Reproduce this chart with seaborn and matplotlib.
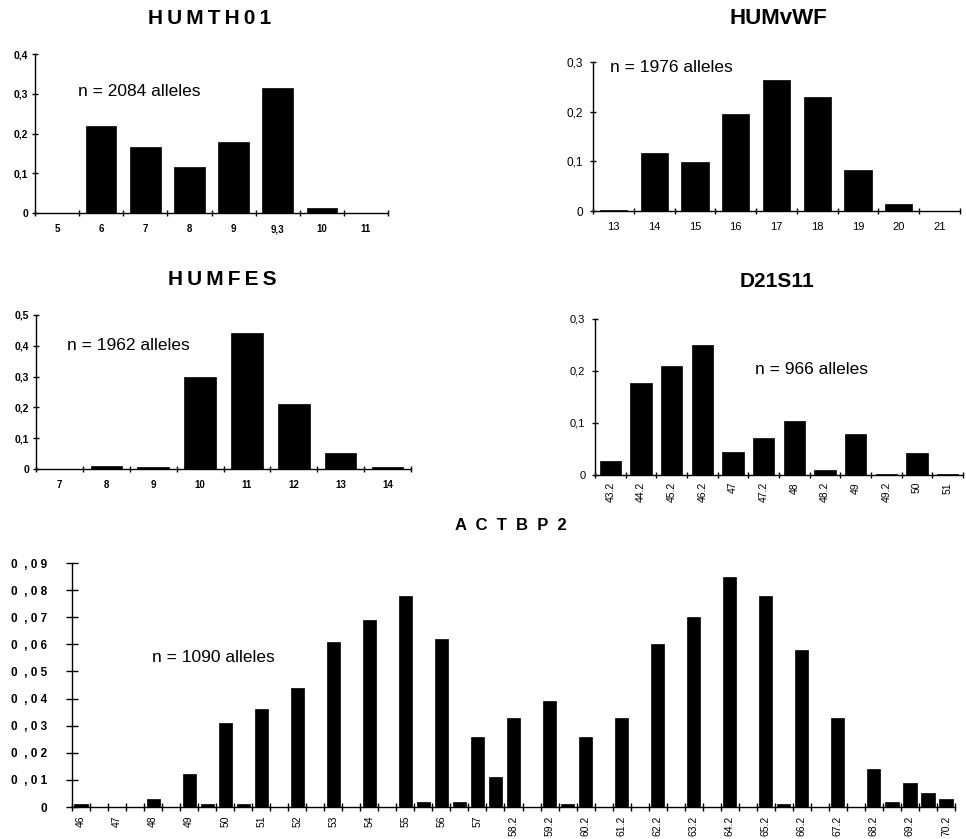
"""
Allele frequency distributions for five STR loci (HUMTH01, HUMvWF, HUMFES, D21S11, ACTBP2).
"""
import numpy as np
import matplotlib
matplotlib.use("Agg")
import matplotlib.pyplot as plt
import seaborn as sns

# --- HUMTH01 ---
th01_alleles = ["5", "6", "7", "8", "9", "9,3", "10", "11"]
th01_freq = [0.0, 0.220, 0.166, 0.116, 0.178, 0.315, 0.013, 0.0]
th01_yticks = [0, 0.1, 0.2, 0.3, 0.4]
th01_ylabels = ["0", "0,1", "0,2", "0,3", "0,4"]

# --- HUMvWF ---
vwf_alleles = ["13", "14", "15", "16", "17", "18", "19", "20", "21"]
vwf_freq = [0.003, 0.117, 0.098, 0.196, 0.264, 0.229, 0.083, 0.015, 0.001]
vwf_yticks = [0, 0.1, 0.2, 0.3]
vwf_ylabels = ["0", "0,1", "0,2", "0,3"]

# --- HUMFES ---
fes_alleles = ["7", "8", "9", "10", "11", "12", "13", "14"]
fes_freq = [0.001, 0.010, 0.005, 0.298, 0.443, 0.212, 0.051, 0.005]
fes_yticks = [0, 0.1, 0.2, 0.3, 0.4, 0.5]
fes_ylabels = ["0", "0,1", "0,2", "0,3", "0,4", "0,5"]

# --- D21S11 ---
d21_alleles = ["43.2", "44.2", "45.2", "46.2", "47", "47.2", "48", "48.2",
               "49", "49.2", "50", "51"]
d21_freq = [0.027, 0.176, 0.209, 0.250, 0.044, 0.071, 0.104, 0.009,
            0.078, 0.001, 0.043, 0.001]
d21_yticks = [0, 0.1, 0.2, 0.3]
d21_ylabels = ["0", "0,1", "0,2", "0,3"]

# --- ACTBP2 ---
act_alleles = ["46", "46.2", "47", "47.2", "48", "48.2", "49", "49.2", "50", "50.2",
               "51", "51.2", "52", "52.2", "53", "53.2", "54", "54.2", "55", "55.2",
               "56", "56.2", "57", "58", "58.2", "59", "59.2", "60", "60.2", "61",
               "61.2", "62", "62.2", "63", "63.2", "64", "64.2", "65", "65.2", "66",
               "66.2", "67", "67.2", "68", "68.2", "69", "69.2", "70", "70.2"]
act_freq = [0.001, 0.0, 0.0, 0.0, 0.003, 0.0, 0.012, 0.001, 0.031, 0.001,
            0.036, 0.0, 0.044, 0.0, 0.061, 0.0, 0.069, 0.0, 0.078, 0.002,
            0.062, 0.002, 0.026, 0.011, 0.033, 0.0, 0.039, 0.001, 0.026, 0.0,
            0.033, 0.0, 0.060, 0.0, 0.070, 0.0, 0.085, 0.0, 0.078, 0.001,
            0.058, 0.0, 0.033, 0.0, 0.014, 0.002, 0.009, 0.005, 0.003]
act_yticks = [0, 0.01, 0.02, 0.03, 0.04, 0.05, 0.06, 0.07, 0.08, 0.09]
act_ylabels = ["0", "0  , 0 1", "0  , 0 2", "0  , 0 3", "0  , 0 4", "0  , 0 5",
               "0  , 0 6", "0  , 0 7", "0  , 0 8", "0  , 0 9"]

W, H = 966, 839


def px_axes(fig, x0, y0, x1, y1):
    # axes from pixel box (top-left origin)
    return fig.add_axes([x0 / W, 1 - y1 / H, (x1 - x0) / W, (y1 - y0) / H])


def draw_panel(ax, alleles, freq, yticks, ylabels, width=0.7, every=1,
               rotate=False, fs=6.5, weight="bold", ytick_len=4, xtick_len=4,
               ypad=3, xpad=8):
    sns.barplot(x=alleles, y=freq, color="black", saturation=1, width=width,
                ax=ax, edgecolor="black", linewidth=0.5)
    n = len(alleles)
    ax.set_xlim(-0.5, n - 0.5)
    ax.set_ylim(0, yticks[-1])
    for side in ["top", "right"]:
        ax.spines[side].set_visible(False)
    for side in ["left", "bottom"]:
        ax.spines[side].set_color("black")
        ax.spines[side].set_linewidth(1.0)

    ax.set_yticks(yticks)
    ax.set_yticklabels(ylabels, fontsize=fs + 0.5, fontweight=weight)
    ax.tick_params(axis="y", left=True, direction="inout", length=ytick_len,
                   width=1, pad=ypad, color="black")

    # category labels centred, ticks on the category boundaries
    idx = np.arange(n)
    ax.set_xticks(idx)
    labels = [a if i % every == 0 else "" for i, a in enumerate(alleles)]
    ax.set_xticklabels(labels, fontsize=fs, fontweight=weight,
                       rotation=90 if rotate else 0)
    ax.set_xticks(np.arange(n + 1) - 0.5, minor=True)
    ax.tick_params(axis="x", which="major", bottom=True, length=0, pad=xpad)
    ax.tick_params(axis="x", which="minor", bottom=True, direction="inout",
                   length=xtick_len, width=1, color="black")
    ax.set_xlabel("")
    ax.set_ylabel("")


def main():
    sns.set_style("ticks")
    plt.rcParams["font.family"] = ["Liberation Sans", "DejaVu Sans"]
    plt.rcParams["text.color"] = "black"
    plt.rcParams["xtick.color"] = "black"
    plt.rcParams["ytick.color"] = "black"

    fig = plt.figure(figsize=(W / 100, H / 100), dpi=100)

    ax1 = px_axes(fig, 35, 54, 388, 213)
    draw_panel(ax1, th01_alleles, th01_freq, th01_yticks, th01_ylabels,
               width=0.69, fs=7)

    ax2 = px_axes(fig, 593, 62, 960, 211)
    draw_panel(ax2, vwf_alleles, vwf_freq, vwf_yticks, vwf_ylabels,
               width=0.67, fs=8, weight="normal", ypad=5)

    ax3 = px_axes(fig, 36, 315, 411, 469)
    draw_panel(ax3, fes_alleles, fes_freq, fes_yticks, fes_ylabels,
               width=0.67, fs=7)

    ax4 = px_axes(fig, 595, 319, 963, 475)
    draw_panel(ax4, d21_alleles, d21_freq, d21_yticks, d21_ylabels,
               width=0.7, rotate=True, fs=7.5, weight="normal", ypad=5, xpad=5)

    ax5 = px_axes(fig, 72, 563, 955, 807)
    draw_panel(ax5, act_alleles, act_freq, act_yticks, act_ylabels,
               width=0.73, every=2, rotate=True, fs=7.5, weight="normal",
               ytick_len=9, xtick_len=6, ypad=13.5, xpad=6)
    for lab in ax5.get_yticklabels():
        lab.set_fontweight("bold")
        lab.set_fontsize(8.5)

    # titles
    sp = "\u2009"
    fig.text(210 / W, 1 - 18 / H, sp.join("HUMTH01"), ha="center", va="center",
             fontsize=15, fontweight="bold")
    fig.text(778 / W, 1 - 18 / H, "HUMvWF", ha="center", va="center",
             fontsize=16, fontweight="bold")
    fig.text(222 / W, 1 - 279 / H, sp.join("HUMFES"), ha="center", va="center",
             fontsize=15, fontweight="bold")
    fig.text(777 / W, 1 - 281 / H, "D21S11", ha="center", va="center",
             fontsize=15, fontweight="bold")
    fig.text(511 / W, 1 - 525 / H, "A  C  T  B  P  2", ha="center", va="center",
             fontsize=12, fontweight="bold")

    # sample sizes
    fig.text(78 / W, 1 - 92 / H, "n = 2084 alleles", ha="left", va="center", fontsize=12.5)
    fig.text(610 / W, 1 - 68 / H, "n = 1976 alleles", ha="left", va="center", fontsize=12.5)
    fig.text(67 / W, 1 - 346 / H, "n = 1962 alleles", ha="left", va="center", fontsize=12.5)
    fig.text(755 / W, 1 - 370 / H, "n = 966 alleles", ha="left", va="center", fontsize=12.5)
    fig.text(152 / W, 1 - 658 / H, "n = 1090 alleles", ha="left", va="center", fontsize=12.5)

    fig.savefig("out.png", dpi=100)


if __name__ == "__main__":
    main()
